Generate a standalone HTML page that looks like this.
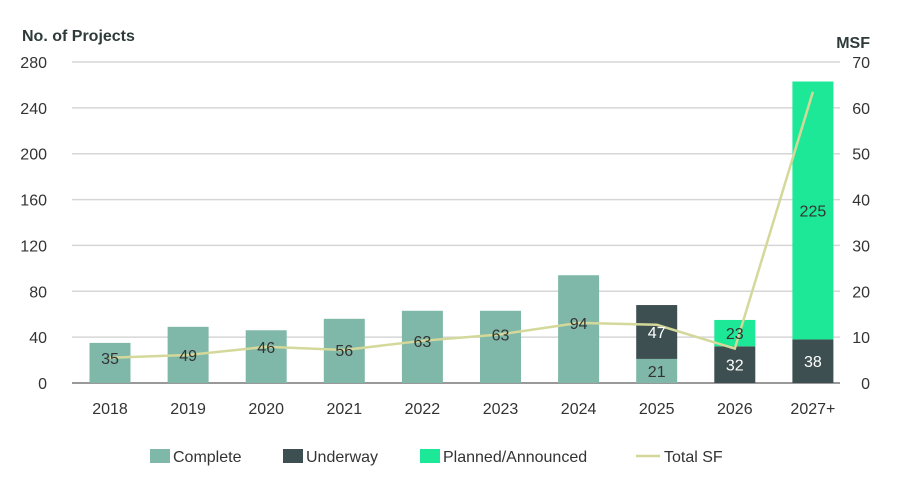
<!DOCTYPE html>
<html><head><meta charset="utf-8"><style>
body{margin:0;background:#fff;font-family:"Liberation Sans",sans-serif}
svg text{font-family:"Liberation Sans",sans-serif}
</style></head><body>
<svg width="909" height="493" viewBox="0 0 909 493" id="chart">
<text x="22" y="41" font-size="16" font-weight="bold" fill="#2f3b3b">No. of Projects</text>
<text x="870" y="48" font-size="16" font-weight="bold" fill="#2f3b3b" text-anchor="end">MSF</text>
<g id="grid"></g><g id="bars"></g><g id="line"></g><g id="labels"></g>
<g>
<g><rect x="150" y="449" width="20" height="14" fill="#7fb8a8"/><text x="173" y="462" font-size="16" fill="#333">Complete</text></g>
<g><rect x="283" y="449" width="20" height="14" fill="#3d4f50"/><text x="306" y="462" font-size="16" fill="#333">Underway</text></g>
<g><rect x="420" y="449" width="20" height="14" fill="#1de897"/><text x="443" y="462" font-size="16" fill="#333">Planned/Announced</text></g>
<g><line x1="636" y1="456" x2="660" y2="456" stroke="#d4d89a" stroke-width="2.5"/><text x="664" y="462" font-size="16" fill="#333">Total SF</text></g>
</g>
</svg>
<script>
const categories=["2018","2019","2020","2021","2022","2023","2024","2025","2026","2027+"];
const complete=[35,49,46,56,63,63,94,21,0,0];
const underway=[0,0,0,0,0,0,0,47,32,38];
const planned=[0,0,0,0,0,0,0,0,23,225];
const totalSF=[5.5,6.1,7.9,7.2,9.2,10.6,13.1,12.7,7.5,63.5];
const leftTicks=[0,40,80,120,160,200,240,280];
const rightTicks=[0,10,20,30,40,50,60,70];
const NS="http://www.w3.org/2000/svg";
const y0=383,yTop=62,xL=72,xR=840;
const yL=v=>y0-(v/280)*(y0-yTop);
const yR=v=>y0-(v/70)*(y0-yTop);
const xC=i=>110+i*78.1;
const bw=41;
function mk(tag,attrs,parent){const e=document.createElementNS(NS,tag);for(const k in attrs)e.setAttribute(k,attrs[k]);parent.appendChild(e);return e;}
const grid=document.getElementById('grid'),bars=document.getElementById('bars'),line=document.getElementById('line'),labels=document.getElementById('labels');
leftTicks.forEach((t,i)=>{
  const l=mk('line',{x1:xL,x2:xR,y1:yL(t),y2:yL(t),stroke:t===0?'#999':'#d6d6d6','stroke-width':t===0?2:1.5},grid);
  
  
  const tx=mk('text',{x:47,y:yL(t)+6,'font-size':16,fill:'#333','text-anchor':'end'},grid);tx.textContent=t;
  
  
});
rightTicks.forEach(t=>{
  const tx=mk('text',{x:870,y:yR(t)+6,'font-size':16,fill:'#333','text-anchor':'end'},grid);tx.textContent=t;
  
  
});
categories.forEach((c,i)=>{
  const x=xC(i)-bw/2;let base=0;
  [[complete,'#7fb8a8','#333'],[underway,'#3d4f50','#fff'],[planned,'#1de897','#333']].forEach(([arr,col,tc],k)=>{
    const v=arr[i];if(!v)return;
    const r=mk('rect',{x:x,y:yL(base+v),width:bw,height:yL(base)-yL(base+v),fill:col},bars);
    
    
    let ly=(yL(base)+yL(base+v))/2+6;
    if(k===0&&underway[i]===0&&planned[i]===0) ly=yR(totalSF[i])+6;
    if(k===0&&i<7) ly=Math.max(Math.min(ly,y0-10),yL(v)+18);
    const t=mk('text',{x:xC(i),y:ly,'font-size':16,fill:tc,'text-anchor':'middle'},labels);t.textContent=v;
    
    
    base+=v;
  });
  const xt=mk('text',{x:xC(i),y:414,'font-size':16,fill:'#333','text-anchor':'middle'},labels);xt.textContent=c;
  
  
});
const p=mk('polyline',{points:totalSF.map((v,i)=>xC(i)+','+yR(v)).join(' '),fill:'none',stroke:'#d4d89a','stroke-width':2.5},line);


</script>
</body></html>
